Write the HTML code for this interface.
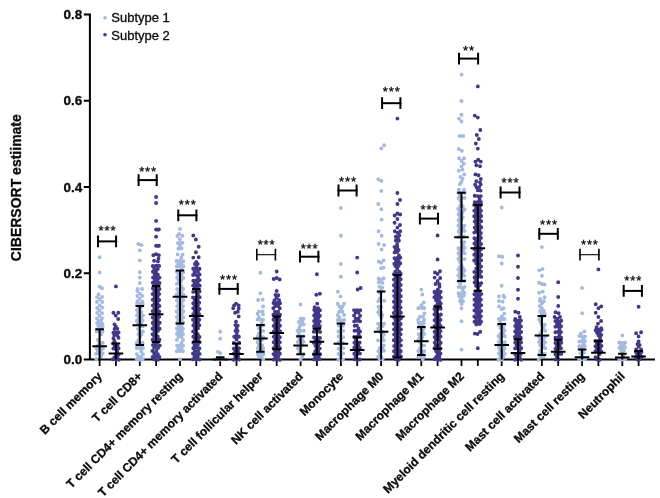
<!DOCTYPE html><html><head><meta charset="utf-8"><title>CIBERSORT estimate</title><style>html,body{margin:0;padding:0;background:#fff}svg{display:block}text{font-family:"Liberation Sans",Arial,sans-serif;fill:#0a0a0a;stroke:#0a0a0a;stroke-width:.3px}</style></head><body>
<svg width="660" height="498" viewBox="0 0 660 498">
<rect width="660" height="498" fill="#fff"/>
<path d="M89.9 13.5V360.5M88.9 359.6H655M83.8 359.6H89.5M83.8 273.3H89.5M83.8 187.0H89.5M83.8 100.8H89.5M83.8 14.5H89.5" stroke="#000" stroke-width="2" fill="none"/>
<path d="M99.6 360V366M115.9 360V366M139.8 360V366M156.1 360V366M180.0 360V366M196.3 360V366M220.2 360V366M236.5 360V366M260.4 360V366M276.7 360V366M300.6 360V366M316.9 360V366M340.9 360V366M357.2 360V366M381.1 360V366M397.4 360V366M421.3 360V366M437.6 360V366M461.5 360V366M477.8 360V366M501.7 360V366M518.0 360V366M541.9 360V366M558.2 360V366M582.1 360V366M598.4 360V366M622.3 360V366M638.6 360V366" stroke="#000" stroke-width="1.8" fill="none"/>
<path d="M99.6 257.3h0M99.6 272.5h0M99.6 286.7h0M102.0 288.2h0M98.6 294.4h0M97.0 297.1h0M102.1 296.9h0M99.6 299.3h0M96.9 302.0h0M102.2 302.0h0M99.7 305.4h0M97.1 308.0h0M102.2 307.5h0M99.4 310.2h0M102.1 313.1h0M97.2 312.7h0M101.9 313.1h0M99.5 315.7h0M96.9 318.4h0M102.0 318.3h0M98.5 321.0h0M101.1 320.5h0M97.1 323.1h0M99.4 323.5h0M102.3 323.7h0M98.3 326.1h0M100.9 326.3h0M99.7 325.6h0M102.7 326.4h0M101.1 328.9h0M96.5 331.3h0M99.4 331.8h0M102.6 331.5h0M101.1 334.4h0M98.0 339.8h0M99.4 342.5h0M102.7 342.8h0M97.8 345.5h0M101.2 345.9h0M96.4 348.4h0M99.4 348.7h0M103.0 348.6h0M97.9 350.8h0M101.0 350.8h0M96.2 353.8h0M99.4 353.6h0M102.7 353.5h0M101.0 356.5h0M96.3 359.2h0M138.3 244.0h0M141.5 244.9h0M139.8 250.4h0M139.8 260.4h0M139.8 272.2h0M139.8 277.6h0M139.8 283.0h0M137.8 289.0h0M142.1 289.0h0M137.3 291.1h0M140.0 293.6h0M137.4 295.8h0M142.1 295.8h0M139.6 298.8h0M137.4 301.3h0M142.3 301.6h0M139.8 303.8h0M137.0 304.0h0M139.9 304.3h0M142.8 304.0h0M138.4 306.7h0M141.3 307.1h0M137.0 309.9h0M139.8 309.9h0M138.1 312.3h0M141.2 312.0h0M137.0 315.4h0M139.9 315.2h0M143.0 315.5h0M138.6 317.8h0M141.5 318.1h0M136.8 320.7h0M139.7 320.5h0M142.5 320.7h0M138.1 323.3h0M141.3 323.1h0M140.0 325.9h0M142.5 326.4h0M138.1 328.9h0M139.6 332.1h0M142.9 331.4h0M138.4 334.5h0M141.5 334.6h0M140.0 337.0h0M138.3 340.1h0M136.7 342.9h0M139.6 342.6h0M142.6 342.7h0M138.5 345.5h0M141.1 345.5h0M136.7 348.0h0M139.8 348.2h0M143.0 348.1h0M141.3 351.4h0M136.9 354.1h0M142.9 354.1h0M138.3 356.6h0M141.1 356.4h0M136.7 359.2h0M140.0 359.8h0M142.7 359.3h0M180.0 228.9h0M179.0 234.0h0M180.0 359.3h0M177.4 236.0h0M182.4 235.8h0M179.8 239.3h0M177.8 243.1h0M182.5 242.8h0M179.1 243.2h0M181.0 243.0h0M180.0 245.6h0M179.0 248.3h0M181.1 248.4h0M178.4 248.7h0M181.5 248.3h0M177.7 254.5h0M182.6 254.6h0M181.3 257.7h0M176.7 261.4h0M180.0 260.8h0M176.6 260.6h0M180.2 261.3h0M183.4 261.3h0M178.3 264.2h0M181.4 263.9h0M176.8 266.5h0M179.8 266.4h0M183.4 266.3h0M181.5 269.7h0M176.8 271.9h0M180.0 272.6h0M183.1 272.6h0M178.4 275.3h0M181.4 274.7h0M177.1 277.7h0M180.2 277.7h0M183.4 278.0h0M178.6 280.5h0M181.3 280.9h0M176.9 283.9h0M179.9 283.5h0M181.5 286.3h0M177.1 288.9h0M180.1 289.4h0M183.2 289.0h0M178.4 292.2h0M181.4 292.1h0M176.7 294.4h0M179.9 295.1h0M183.4 294.6h0M178.2 297.6h0M181.6 297.3h0M176.9 300.5h0M180.2 300.5h0M183.3 300.2h0M178.4 303.4h0M181.5 303.0h0M177.1 306.1h0M180.0 306.4h0M183.0 306.2h0M178.7 308.5h0M181.8 309.1h0M176.6 311.5h0M179.9 312.0h0M183.4 311.5h0M178.4 314.2h0M181.8 314.1h0M176.9 317.0h0M179.8 317.0h0M183.2 317.4h0M178.2 319.9h0M181.4 319.9h0M177.0 322.9h0M179.8 322.8h0M183.2 322.5h0M178.5 325.6h0M181.5 326.1h0M176.9 328.4h0M180.2 328.9h0M183.0 328.7h0M178.2 331.6h0M181.8 331.2h0M176.9 333.9h0M180.0 334.2h0M183.0 334.2h0M178.4 336.7h0M181.6 337.3h0M176.9 340.0h0M183.0 340.1h0M181.4 342.9h0M177.1 345.5h0M179.9 345.6h0M183.1 345.7h0M178.3 348.0h0M181.6 348.1h0M176.7 351.2h0M179.8 351.0h0M182.9 351.3h0M220.2 331.8h0M220.2 338.7h0M217.9 351.8h0M220.2 353.3h0M217.2 359.3h0M220.2 359.5h0M223.2 359.3h0M260.4 272.8h0M260.4 293.3h0M258.1 300.0h0M262.6 299.5h0M263.1 306.4h0M258.9 311.8h0M262.6 311.5h0M257.6 313.8h0M263.0 314.4h0M259.0 317.2h0M257.6 319.4h0M260.2 319.5h0M263.0 319.6h0M261.8 322.6h0M257.5 325.5h0M260.6 325.7h0M263.3 325.6h0M258.9 328.4h0M260.6 331.2h0M263.2 330.9h0M258.8 333.8h0M257.7 336.6h0M260.4 336.8h0M263.3 337.1h0M259.1 339.8h0M261.8 340.0h0M257.6 342.2h0M258.8 345.3h0M262.0 345.3h0M257.8 348.1h0M260.7 347.9h0M263.2 348.3h0M259.3 350.9h0M261.7 350.9h0M257.6 353.7h0M260.4 353.6h0M263.4 354.2h0M258.9 356.9h0M261.7 356.4h0M263.3 359.5h0M300.6 304.5h0M300.6 318.7h0M303.5 318.7h0M298.9 322.0h0M302.4 321.6h0M300.4 325.0h0M303.7 324.5h0M299.3 327.8h0M297.5 330.7h0M300.6 330.9h0M303.8 330.7h0M298.9 333.6h0M297.6 336.5h0M300.8 336.3h0M303.5 336.4h0M299.3 339.0h0M302.1 339.4h0M297.7 342.1h0M300.9 342.4h0M303.5 341.8h0M302.3 344.9h0M297.9 348.2h0M300.6 347.9h0M299.3 350.9h0M300.4 353.5h0M303.6 354.0h0M302.3 356.9h0M300.5 359.8h0M340.9 208.0h0M340.9 235.8h0M340.9 264.0h0M340.9 276.7h0M337.9 291.8h0M340.6 296.4h0M337.7 303.7h0M344.0 303.7h0M339.4 306.5h0M342.5 306.5h0M341.1 309.0h0M339.1 312.0h0M342.4 311.8h0M337.7 315.1h0M344.1 315.0h0M339.3 317.2h0M337.6 319.9h0M340.6 320.3h0M344.2 319.9h0M338.6 320.1h0M342.9 320.2h0M340.7 322.5h0M338.7 325.6h0M342.9 325.7h0M341.0 328.5h0M338.4 331.5h0M343.2 330.9h0M340.8 334.4h0M338.6 336.5h0M343.1 337.2h0M340.7 340.0h0M338.4 342.5h0M342.9 342.6h0M340.9 345.1h0M338.7 348.5h0M343.3 348.1h0M340.6 351.3h0M338.5 353.9h0M343.2 353.5h0M340.7 356.4h0M338.4 359.8h0M343.0 359.7h0M384.1 145.2h0M381.3 148.4h0M378.3 179.2h0M381.4 181.0h0M381.3 191.0h0M378.3 204.0h0M381.3 209.2h0M381.6 219.6h0M378.6 231.3h0M381.6 235.8h0M378.6 244.0h0M384.1 245.0h0M381.6 249.5h0M378.7 261.6h0M383.6 260.4h0M381.1 262.7h0M381.1 268.2h0M383.6 267.6h0M378.7 278.5h0M381.1 279.8h0M383.6 278.5h0M378.7 282.2h0M382.4 283.0h0M379.6 286.7h0M382.4 287.6h0M380.9 290.4h0M379.5 292.7h0M379.7 298.5h0M378.3 301.3h0M384.2 300.7h0M378.4 306.7h0M381.2 307.0h0M379.6 309.4h0M378.1 312.3h0M381.0 312.5h0M379.6 314.8h0M382.4 315.1h0M381.3 317.7h0M378.1 323.7h0M380.8 323.4h0M384.2 323.6h0M379.8 326.2h0M382.6 326.1h0M378.2 328.8h0M379.4 331.6h0M382.6 331.8h0M384.0 334.6h0M382.6 337.5h0M378.0 340.4h0M383.8 340.4h0M383.8 345.4h0M379.6 348.1h0M382.6 348.5h0M378.4 351.3h0M381.0 351.4h0M384.1 350.8h0M379.8 354.0h0M378.1 356.8h0M381.1 356.7h0M379.6 359.2h0M382.7 359.2h0M421.3 289.6h0M422.3 294.5h0M423.7 302.5h0M421.3 305.3h0M418.8 308.1h0M423.9 307.7h0M418.3 308.1h0M421.1 307.7h0M424.2 308.4h0M424.4 313.5h0M419.9 316.7h0M423.0 316.8h0M418.2 319.6h0M424.1 319.9h0M419.6 322.8h0M422.8 322.6h0M418.5 322.6h0M421.1 323.0h0M423.9 323.0h0M419.7 325.6h0M422.7 325.6h0M418.5 328.1h0M421.3 328.0h0M423.9 328.3h0M422.8 331.4h0M418.7 334.2h0M421.4 333.9h0M424.3 334.1h0M419.7 337.1h0M422.5 336.8h0M418.5 339.5h0M421.4 339.6h0M420.1 342.6h0M421.4 345.2h0M424.2 345.6h0M419.8 348.4h0M418.3 351.1h0M421.3 351.3h0M424.3 351.1h0M419.7 353.8h0M422.7 353.5h0M418.3 356.9h0M421.3 356.5h0M424.0 356.4h0M422.8 359.7h0M461.5 74.6h0M461.5 101.0h0M461.5 114.7h0M459.0 118.6h0M461.5 121.5h0M459.8 136.0h0M463.2 136.0h0M458.7 149.0h0M461.9 150.7h0M458.8 170.7h0M462.5 169.8h0M464.2 174.4h0M460.5 177.0h0M461.5 308.2h0M461.5 321.3h0M461.5 349.6h0M459.1 158.2h0M464.0 158.2h0M461.6 161.0h0M463.8 163.7h0M461.5 166.4h0M462.6 178.7h0M461.4 182.0h0M459.8 184.3h0M458.8 189.6h0M464.0 189.6h0M460.1 192.6h0M463.2 192.3h0M458.4 192.8h0M464.6 192.8h0M459.9 195.3h0M458.6 198.1h0M461.5 198.3h0M464.6 197.9h0M460.2 200.5h0M461.3 203.3h0M460.2 206.0h0M462.8 206.1h0M458.3 209.0h0M464.6 209.5h0M459.9 212.1h0M462.7 211.9h0M458.5 214.3h0M461.7 214.5h0M460.0 217.1h0M462.8 217.5h0M458.6 220.2h0M461.4 220.2h0M459.9 223.3h0M458.4 225.4h0M461.3 225.3h0M464.4 225.7h0M459.7 228.6h0M463.0 228.5h0M458.7 231.5h0M461.4 231.1h0M464.7 231.1h0M459.9 233.7h0M458.5 237.1h0M461.5 236.7h0M464.3 236.4h0M461.6 242.1h0M464.5 242.1h0M463.1 245.3h0M458.5 248.2h0M461.6 248.0h0M464.6 247.7h0M460.0 250.7h0M463.1 250.6h0M458.5 253.2h0M464.6 253.4h0M459.8 255.8h0M458.5 258.9h0M464.4 259.1h0M460.0 261.9h0M461.4 264.7h0M459.8 267.0h0M462.9 267.4h0M458.4 269.6h0M461.7 270.1h0M464.5 270.2h0M459.8 272.8h0M463.0 272.5h0M458.4 275.4h0M461.3 275.5h0M464.4 275.6h0M459.9 278.0h0M458.5 281.3h0M461.5 281.2h0M464.5 280.6h0M458.5 281.2h0M461.4 281.1h0M464.4 280.9h0M460.2 283.8h0M458.5 287.1h0M461.3 287.2h0M464.5 287.0h0M462.7 290.1h0M458.5 293.3h0M461.5 293.3h0M464.4 293.0h0M460.1 296.2h0M462.7 296.1h0M459.2 296.2h0M463.8 295.7h0M461.3 298.3h0M460.1 301.0h0M463.0 301.3h0M461.6 303.9h0M501.7 207.5h0M498.9 256.2h0M502.3 256.7h0M501.7 263.5h0M501.7 285.8h0M499.0 296.4h0M503.5 295.8h0M504.4 297.3h0M499.0 301.0h0M502.6 301.8h0M499.0 306.4h0M503.5 308.2h0M501.7 309.1h0M504.2 313.6h0M501.9 316.5h0M499.0 318.9h0M504.4 319.3h0M498.8 319.1h0M501.6 319.2h0M504.5 319.2h0M500.2 321.8h0M498.9 324.9h0M501.9 325.0h0M504.6 324.5h0M500.4 327.9h0M503.0 327.7h0M501.8 330.3h0M504.5 330.4h0M500.4 333.8h0M503.1 333.8h0M498.6 336.3h0M501.6 336.3h0M504.9 336.2h0M500.4 339.2h0M498.8 342.0h0M501.8 342.1h0M504.8 342.3h0M500.1 345.4h0M503.1 345.1h0M498.8 347.6h0M504.6 348.3h0M500.1 350.5h0M503.3 351.0h0M498.8 353.4h0M501.8 354.1h0M504.8 353.9h0M500.4 356.8h0M503.2 356.9h0M498.5 359.8h0M501.7 359.6h0M541.9 247.1h0M539.1 270.4h0M542.5 269.0h0M541.9 275.8h0M539.1 282.7h0M541.9 284.0h0M544.6 284.5h0M539.2 292.7h0M542.8 291.8h0M544.6 297.3h0M540.1 299.0h0M539.9 300.7h0M543.8 301.3h0M542.0 303.3h0M539.6 306.1h0M541.7 308.3h0M540.0 311.3h0M543.8 310.8h0M542.0 313.6h0M544.8 313.9h0M540.2 316.5h0M543.2 316.3h0M539.2 319.5h0M540.5 322.1h0M541.7 324.8h0M544.8 324.7h0M543.4 327.6h0M541.7 330.7h0M545.1 330.8h0M540.3 333.5h0M538.7 336.6h0M541.8 336.5h0M545.0 336.7h0M540.2 339.6h0M543.4 339.3h0M539.0 342.1h0M542.0 342.3h0M545.1 342.4h0M540.3 345.5h0M543.4 345.4h0M542.0 347.7h0M545.2 348.3h0M540.2 350.7h0M539.0 354.1h0M542.1 353.6h0M544.7 354.0h0M540.6 356.8h0M543.6 356.4h0M538.7 359.7h0M582.1 287.9h0M582.1 313.2h0M580.9 333.6h0M584.4 331.5h0M579.1 359.3h0M582.1 359.5h0M585.1 359.3h0M579.4 336.1h0M582.0 336.7h0M585.0 336.6h0M583.6 339.0h0M579.3 341.6h0M582.0 341.0h0M584.9 341.2h0M583.6 344.0h0M579.3 346.2h0M581.9 346.0h0M584.9 346.1h0M580.7 346.6h0M584.0 346.1h0M582.0 349.5h0M580.4 353.0h0M584.0 352.7h0M581.9 356.3h0M622.3 335.5h0M619.3 359.3h0M622.3 359.5h0M625.3 359.3h0M619.3 342.5h0M622.3 342.9h0M625.1 342.6h0M621.0 345.0h0M624.0 345.1h0M619.3 347.7h0M622.1 347.5h0M625.1 347.4h0M621.0 350.1h0M623.9 350.4h0M621.1 349.9h0M622.2 353.1h0M623.6 355.6h0" stroke="#a3bae1" stroke-width="3.9" stroke-linecap="round" fill="none"/>
<path d="M115.9 286.4h0M113.4 312.7h0M118.3 312.8h0M115.7 315.6h0M118.2 319.0h0M114.5 324.4h0M115.8 326.4h0M114.6 329.0h0M117.3 328.8h0M113.4 332.8h0M116.1 332.7h0M118.6 332.4h0M114.3 335.0h0M117.4 335.6h0M113.4 338.3h0M118.5 337.7h0M114.4 340.7h0M113.1 343.4h0M115.7 343.4h0M114.6 346.0h0M117.5 345.9h0M113.3 348.6h0M116.1 348.9h0M118.6 348.4h0M117.2 351.7h0M115.8 354.1h0M118.6 354.5h0M114.5 357.1h0M117.5 357.1h0M112.8 359.3h0M115.9 359.3h0M118.7 359.8h0M156.1 197.0h0M156.1 203.0h0M156.1 220.9h0M156.1 229.5h0M158.9 229.5h0M156.1 236.7h0M156.1 245.8h0M158.9 245.8h0M153.3 255.3h0M156.1 254.3h0M158.9 255.3h0M158.5 258.6h0M154.1 260.7h0M157.9 261.4h0M153.5 266.4h0M158.5 265.6h0M152.8 266.0h0M156.1 265.6h0M159.2 265.9h0M154.2 268.7h0M157.8 268.9h0M152.9 271.8h0M156.1 271.5h0M154.6 274.6h0M157.9 274.8h0M153.0 277.6h0M156.1 277.3h0M159.5 277.6h0M154.7 280.3h0M157.6 279.8h0M152.8 282.7h0M156.1 283.1h0M159.5 283.0h0M154.6 286.0h0M157.8 286.0h0M152.9 288.5h0M156.0 288.9h0M159.5 289.0h0M154.4 291.5h0M157.9 291.6h0M152.6 294.1h0M156.2 294.2h0M159.2 294.0h0M154.5 297.3h0M157.7 297.2h0M152.8 299.7h0M156.0 300.4h0M159.2 300.0h0M154.7 302.8h0M157.6 303.2h0M152.8 305.4h0M156.3 305.4h0M159.4 306.0h0M154.3 308.8h0M157.5 308.1h0M152.7 311.2h0M156.0 311.2h0M159.2 311.5h0M154.2 314.5h0M158.0 314.0h0M152.7 317.4h0M156.0 316.9h0M159.2 316.7h0M154.3 320.2h0M157.7 319.8h0M152.7 323.0h0M156.3 322.8h0M159.7 322.7h0M154.2 325.7h0M157.9 325.6h0M152.5 328.7h0M156.1 328.2h0M159.6 328.7h0M154.5 331.0h0M157.8 330.9h0M152.6 334.3h0M156.0 334.3h0M154.2 336.6h0M157.7 336.5h0M152.6 339.7h0M156.2 339.6h0M159.5 339.6h0M154.2 342.3h0M157.6 342.5h0M152.9 345.1h0M156.0 345.3h0M159.8 345.6h0M154.2 347.8h0M158.0 348.1h0M152.4 350.9h0M156.3 351.3h0M154.2 353.6h0M157.9 354.2h0M152.7 356.9h0M156.1 356.3h0M159.4 357.0h0M154.3 359.2h0M157.9 359.7h0M193.3 235.5h0M195.9 239.5h0M198.7 246.7h0M195.9 252.2h0M193.3 257.6h0M198.7 257.3h0M196.3 262.0h0M194.9 264.0h0M197.7 263.9h0M196.3 266.6h0M193.3 268.6h0M196.3 268.8h0M199.4 269.0h0M193.2 268.7h0M196.3 268.7h0M199.5 268.6h0M194.5 272.0h0M197.9 271.5h0M193.1 275.0h0M196.5 275.1h0M199.6 274.4h0M198.1 277.8h0M193.3 280.7h0M196.2 280.5h0M199.7 280.1h0M194.6 283.1h0M197.7 283.0h0M193.1 285.6h0M196.2 286.3h0M199.7 285.7h0M194.6 288.8h0M197.8 289.1h0M193.2 291.9h0M196.6 291.7h0M199.6 291.4h0M197.8 294.7h0M193.0 297.5h0M196.5 297.1h0M199.7 297.3h0M194.7 299.7h0M197.7 300.2h0M193.2 303.3h0M196.2 303.1h0M199.2 302.8h0M194.7 305.5h0M197.9 305.5h0M193.2 308.3h0M196.2 308.3h0M199.5 308.9h0M194.7 311.2h0M198.0 311.5h0M193.2 314.2h0M196.4 314.0h0M199.2 314.3h0M194.6 316.7h0M197.7 317.1h0M193.0 319.7h0M196.3 320.0h0M199.3 319.8h0M194.5 323.0h0M198.0 322.3h0M193.3 325.5h0M196.3 325.3h0M199.3 325.2h0M194.9 328.5h0M198.0 328.2h0M193.1 331.4h0M196.2 331.3h0M194.9 333.7h0M197.8 334.2h0M193.3 336.7h0M196.2 336.7h0M199.5 337.0h0M195.0 339.7h0M198.0 340.0h0M193.3 342.6h0M196.2 342.6h0M199.7 342.2h0M194.5 345.7h0M197.7 345.0h0M193.3 348.3h0M196.4 347.8h0M199.4 348.4h0M194.9 350.7h0M198.1 351.4h0M193.0 353.5h0M196.5 354.1h0M199.6 353.9h0M194.5 356.4h0M197.7 356.5h0M192.9 359.3h0M196.4 359.4h0M199.7 359.5h0M234.1 305.5h0M238.7 305.5h0M236.0 303.6h0M233.2 308.2h0M238.7 308.4h0M235.1 312.7h0M237.8 311.8h0M238.7 316.4h0M236.0 321.8h0M235.4 325.1h0M237.7 325.7h0M236.6 328.4h0M235.5 330.9h0M237.6 330.9h0M236.7 334.5h0M235.3 337.0h0M237.6 337.0h0M234.2 336.8h0M238.9 336.8h0M236.5 339.5h0M233.8 342.9h0M239.2 342.7h0M236.5 345.4h0M233.7 348.6h0M236.4 348.1h0M239.1 348.2h0M235.1 351.0h0M238.0 351.3h0M233.8 353.7h0M236.7 354.0h0M239.0 353.8h0M235.2 356.4h0M238.1 356.5h0M233.7 359.7h0M236.4 359.2h0M239.2 359.5h0M276.7 271.5h0M273.7 279.0h0M276.7 278.0h0M279.7 279.5h0M276.7 291.0h0M275.5 294.9h0M278.3 295.3h0M276.6 297.7h0M274.5 300.2h0M279.1 300.2h0M275.2 302.7h0M278.3 302.8h0M273.5 303.0h0M276.8 303.1h0M280.1 303.3h0M275.3 306.1h0M278.1 306.1h0M273.3 308.3h0M279.8 308.3h0M275.0 311.7h0M278.1 311.8h0M273.4 314.6h0M276.9 314.4h0M280.0 314.6h0M275.3 317.1h0M278.3 317.4h0M273.5 319.7h0M276.7 319.6h0M279.7 319.9h0M275.2 323.1h0M278.5 322.7h0M273.7 325.9h0M276.7 326.0h0M280.0 325.7h0M275.2 328.6h0M278.2 328.8h0M273.6 331.6h0M276.8 331.4h0M280.1 331.1h0M275.2 334.3h0M278.3 334.0h0M273.8 336.7h0M276.7 336.9h0M279.9 337.3h0M275.3 339.6h0M278.2 339.8h0M273.7 342.2h0M276.9 342.6h0M279.8 342.2h0M275.4 345.5h0M278.5 345.7h0M273.6 348.3h0M276.8 348.3h0M280.0 348.2h0M275.0 350.8h0M278.5 351.4h0M273.5 354.1h0M276.8 353.7h0M279.9 353.7h0M275.2 357.0h0M278.3 356.3h0M273.7 359.6h0M276.7 359.1h0M279.9 359.9h0M316.9 274.2h0M316.3 294.8h0M319.9 293.8h0M317.2 303.6h0M314.6 307.3h0M318.1 308.2h0M314.2 309.9h0M317.0 310.2h0M320.0 310.3h0M315.5 312.9h0M318.3 312.6h0M314.1 315.5h0M317.1 315.7h0M319.9 315.8h0M315.5 318.2h0M318.3 318.0h0M314.1 320.9h0M316.9 321.0h0M319.7 321.4h0M315.3 323.9h0M318.3 323.8h0M314.0 326.1h0M317.2 326.8h0M319.9 326.3h0M315.4 329.6h0M318.6 329.6h0M313.8 331.8h0M316.7 331.6h0M320.1 332.0h0M314.0 337.4h0M317.2 337.3h0M320.0 337.9h0M315.4 340.2h0M318.7 340.6h0M313.8 342.8h0M317.2 343.3h0M319.7 343.2h0M315.5 346.1h0M318.2 346.0h0M316.8 348.6h0M319.7 348.4h0M315.3 351.2h0M318.3 351.0h0M313.8 354.2h0M316.7 354.3h0M320.1 354.3h0M315.3 356.7h0M318.6 357.0h0M314.0 359.4h0M316.9 359.6h0M319.8 359.1h0M357.2 257.6h0M357.2 272.5h0M357.7 289.5h0M360.7 288.0h0M354.0 310.1h0M357.2 310.2h0M360.3 310.2h0M355.5 312.7h0M358.5 312.4h0M354.0 315.6h0M360.1 315.7h0M355.8 318.6h0M358.6 318.5h0M354.2 321.4h0M357.1 320.8h0M360.1 321.4h0M354.7 325.8h0M356.9 325.5h0M358.5 328.4h0M354.5 330.8h0M357.2 330.8h0M360.1 331.4h0M358.7 334.3h0M354.2 336.9h0M357.2 336.7h0M360.1 336.9h0M355.8 339.6h0M354.4 342.6h0M357.2 342.9h0M359.7 342.5h0M355.6 345.0h0M358.4 345.3h0M354.3 347.8h0M357.3 348.3h0M359.9 347.9h0M355.8 351.0h0M358.5 350.8h0M354.3 353.8h0M357.2 353.4h0M360.0 353.6h0M355.8 356.5h0M354.6 359.2h0M357.3 359.5h0M359.8 359.5h0M397.4 118.6h0M397.4 193.0h0M400.0 200.0h0M397.4 204.0h0M394.6 215.5h0M397.4 213.5h0M400.2 214.5h0M397.4 219.0h0M394.6 222.7h0M400.0 225.0h0M397.4 227.6h0M400.2 231.3h0M394.8 231.3h0M397.6 233.0h0M399.4 235.3h0M395.8 236.8h0M398.0 238.0h0M395.8 240.5h0M398.9 240.7h0M397.1 244.2h0M394.5 246.9h0M397.3 246.7h0M395.8 249.7h0M398.6 250.0h0M394.6 252.4h0M397.2 252.1h0M399.0 255.4h0M394.5 258.2h0M397.6 257.7h0M400.4 257.6h0M396.1 260.6h0M398.7 260.3h0M394.3 263.7h0M397.4 263.0h0M400.3 263.2h0M395.7 266.3h0M398.7 265.8h0M395.3 265.6h0M397.2 268.8h0M395.3 271.6h0M399.3 271.6h0M393.9 274.2h0M397.6 273.8h0M400.7 273.8h0M395.5 276.9h0M399.2 276.8h0M393.9 279.6h0M397.6 279.2h0M400.7 279.3h0M395.6 282.4h0M399.0 282.2h0M393.9 285.3h0M397.5 284.7h0M400.7 285.0h0M395.5 287.6h0M398.9 288.0h0M394.0 290.9h0M397.6 290.8h0M400.6 290.2h0M395.8 293.2h0M399.1 293.5h0M394.2 295.9h0M397.2 295.8h0M400.8 296.2h0M395.5 298.6h0M398.9 298.7h0M393.9 301.7h0M397.5 301.6h0M400.6 301.5h0M395.6 303.9h0M399.2 304.2h0M394.2 307.2h0M397.2 306.8h0M400.6 307.4h0M395.5 310.0h0M399.2 310.1h0M393.8 313.0h0M397.6 312.8h0M400.9 312.7h0M395.5 315.5h0M399.1 315.7h0M394.2 317.8h0M397.5 317.9h0M401.0 318.2h0M395.6 320.5h0M399.0 320.6h0M393.8 323.8h0M397.2 323.4h0M400.7 324.0h0M395.6 326.7h0M399.1 326.3h0M394.0 329.4h0M397.5 329.2h0M400.9 329.4h0M395.6 331.8h0M398.8 331.7h0M394.1 334.6h0M397.3 334.7h0M400.6 334.3h0M395.9 337.6h0M399.2 337.8h0M393.8 340.2h0M397.2 340.2h0M400.9 340.3h0M395.9 343.1h0M398.9 342.7h0M394.2 346.0h0M397.2 345.8h0M400.9 345.4h0M395.9 348.7h0M398.9 348.7h0M394.0 351.3h0M397.5 351.0h0M400.8 351.3h0M395.8 354.3h0M399.0 354.0h0M393.9 356.8h0M397.5 356.5h0M401.0 356.4h0M395.7 359.3h0M398.8 359.8h0M437.6 235.5h0M437.6 259.5h0M435.0 272.5h0M440.0 271.3h0M437.6 274.0h0M434.6 277.6h0M440.2 278.0h0M437.6 281.0h0M435.6 284.0h0M439.4 284.2h0M439.5 286.7h0M437.8 289.7h0M434.5 292.3h0M437.5 292.0h0M440.7 291.9h0M434.5 291.7h0M437.4 292.3h0M440.5 291.7h0M436.0 294.9h0M439.1 294.4h0M434.4 297.2h0M437.8 297.3h0M440.8 297.4h0M436.0 300.2h0M439.1 300.8h0M437.6 303.5h0M440.8 303.4h0M436.0 305.9h0M439.3 306.4h0M434.4 309.1h0M437.6 309.0h0M440.7 308.8h0M435.9 311.5h0M434.4 314.3h0M437.5 314.2h0M440.9 314.5h0M436.1 317.2h0M438.9 317.2h0M434.6 320.2h0M437.5 320.5h0M440.5 319.9h0M436.3 322.8h0M439.1 323.2h0M434.5 326.1h0M437.5 325.4h0M440.6 325.9h0M436.0 328.3h0M439.3 328.7h0M434.6 331.7h0M437.4 331.6h0M440.6 331.1h0M436.0 334.5h0M439.3 334.0h0M434.6 337.1h0M437.7 336.9h0M440.6 336.6h0M435.9 339.8h0M439.0 339.8h0M434.7 342.7h0M440.7 342.8h0M435.8 345.2h0M439.3 345.1h0M434.4 348.3h0M437.6 348.4h0M440.6 348.4h0M436.1 351.3h0M439.0 351.3h0M437.5 353.9h0M440.5 353.5h0M436.1 356.9h0M439.4 356.5h0M434.3 359.1h0M437.4 359.5h0M440.5 359.9h0M477.8 86.4h0M474.8 115.6h0M477.8 117.6h0M480.3 130.0h0M476.8 135.0h0M478.8 139.0h0M475.8 143.5h0M477.8 148.6h0M475.4 161.6h0M478.2 159.8h0M480.8 161.6h0M476.3 165.3h0M480.0 166.2h0M475.4 174.4h0M478.5 175.3h0M480.8 179.0h0M476.3 181.3h0M480.0 182.5h0M474.8 333.6h0M480.2 331.8h0M477.5 334.0h0M477.8 348.2h0M475.1 184.7h0M480.7 184.4h0M476.6 187.2h0M479.2 187.1h0M477.8 190.2h0M480.6 190.6h0M474.7 195.8h0M477.7 196.1h0M480.8 196.1h0M479.5 199.2h0M474.7 202.1h0M477.8 201.9h0M480.9 201.9h0M476.5 205.1h0M479.5 205.0h0M474.2 204.9h0M477.6 205.3h0M481.2 204.7h0M476.1 208.0h0M479.6 207.9h0M474.3 210.8h0M478.0 210.3h0M480.9 210.8h0M476.1 213.5h0M479.7 213.5h0M474.2 216.3h0M478.0 216.0h0M481.2 216.0h0M475.9 219.2h0M479.6 218.6h0M474.7 221.6h0M477.7 221.8h0M481.2 221.3h0M476.2 224.4h0M479.3 224.7h0M474.7 227.6h0M477.8 227.1h0M481.3 227.2h0M475.9 230.0h0M479.5 230.0h0M474.3 232.6h0M478.0 232.6h0M480.9 232.9h0M479.7 235.7h0M474.4 238.3h0M477.9 238.1h0M481.0 238.0h0M475.9 241.2h0M479.5 241.1h0M474.4 243.6h0M477.6 244.0h0M481.1 244.0h0M475.9 247.0h0M479.6 247.0h0M474.3 249.1h0M477.6 249.5h0M480.9 249.4h0M476.1 252.2h0M479.3 252.2h0M474.3 254.8h0M477.8 255.3h0M481.4 255.0h0M476.2 258.0h0M479.6 257.5h0M474.2 260.5h0M477.7 260.9h0M481.2 260.4h0M476.3 263.5h0M479.3 263.4h0M477.8 266.3h0M481.1 266.4h0M476.3 268.5h0M479.4 268.8h0M474.3 271.9h0M477.6 271.6h0M481.0 271.5h0M476.4 274.9h0M479.5 274.5h0M474.6 277.5h0M477.6 277.4h0M481.3 276.9h0M476.0 279.8h0M474.6 282.5h0M478.0 283.1h0M481.3 283.1h0M476.1 285.9h0M479.7 285.4h0M478.0 288.1h0M476.0 291.4h0M479.3 291.1h0M474.4 294.3h0M477.9 293.8h0M481.3 294.1h0M476.3 296.6h0M479.5 297.0h0M474.5 299.8h0M477.5 299.5h0M480.9 299.7h0M476.2 302.2h0M479.3 302.2h0M474.5 304.9h0M477.7 305.2h0M481.2 305.3h0M476.2 307.5h0M479.3 307.6h0M474.4 310.4h0M477.8 310.9h0M481.1 311.0h0M476.4 313.1h0M479.3 313.4h0M474.3 316.5h0M477.9 316.0h0M480.9 316.2h0M476.1 318.8h0M479.7 319.1h0M474.5 321.7h0M477.7 321.8h0M481.1 321.7h0M476.3 324.5h0M479.7 324.1h0M518.0 255.5h0M518.0 266.7h0M518.0 278.0h0M518.0 289.8h0M518.0 298.7h0M515.3 311.8h0M518.5 312.7h0M519.8 317.0h0M515.3 319.0h0M515.0 320.2h0M518.0 320.8h0M521.0 320.4h0M516.4 323.6h0M519.6 323.0h0M515.2 326.1h0M518.2 326.3h0M521.0 326.4h0M516.6 329.0h0M519.4 328.5h0M515.2 331.5h0M517.9 331.3h0M521.2 331.9h0M516.6 334.1h0M519.4 334.0h0M514.9 337.0h0M518.0 337.3h0M520.7 337.5h0M516.4 340.1h0M519.4 340.1h0M515.2 342.6h0M518.2 342.8h0M521.1 342.4h0M516.5 345.2h0M519.6 345.6h0M515.1 348.4h0M518.2 348.8h0M521.2 348.2h0M519.5 350.8h0M515.1 354.1h0M517.9 353.7h0M520.8 353.7h0M516.5 356.7h0M519.6 356.5h0M515.1 359.7h0M521.2 359.8h0M558.2 282.2h0M558.2 297.0h0M558.2 306.0h0M555.5 312.2h0M558.7 313.3h0M554.6 317.0h0M560.0 317.0h0M557.3 319.0h0M555.4 321.0h0M558.2 321.1h0M561.3 320.7h0M556.8 323.6h0M559.4 323.9h0M555.4 326.7h0M558.0 326.6h0M561.1 326.2h0M559.6 328.9h0M555.4 332.3h0M558.1 331.8h0M561.0 332.1h0M559.4 334.4h0M555.4 337.6h0M558.2 337.4h0M561.2 337.8h0M556.9 340.6h0M559.8 339.9h0M555.4 342.9h0M558.0 343.4h0M561.3 342.8h0M556.7 345.6h0M559.7 346.1h0M555.5 348.7h0M558.5 348.7h0M561.0 348.4h0M556.6 351.6h0M555.4 354.2h0M558.4 354.0h0M561.3 353.9h0M556.7 356.8h0M555.3 359.6h0M558.4 359.4h0M598.4 269.4h0M595.7 304.2h0M601.2 306.4h0M598.4 308.2h0M595.7 312.7h0M598.4 317.0h0M601.1 321.0h0M598.0 323.6h0M596.6 327.3h0M601.1 328.2h0M595.6 330.2h0M598.3 329.6h0M601.6 329.7h0M597.0 332.8h0M599.7 332.4h0M598.5 335.4h0M601.2 335.0h0M600.1 337.9h0M595.3 341.0h0M598.4 340.7h0M601.2 341.0h0M596.9 343.6h0M599.7 343.2h0M595.4 346.2h0M598.6 345.7h0M601.5 345.9h0M596.9 348.5h0M600.0 348.4h0M595.5 351.2h0M598.4 351.1h0M601.3 351.4h0M599.7 353.9h0M595.5 357.1h0M597.2 359.5h0M599.7 359.8h0M638.6 306.7h0M636.1 333.3h0M641.1 332.2h0M638.6 336.4h0M638.6 341.5h0M637.5 344.3h0M639.6 344.9h0M638.7 346.6h0M636.2 349.5h0M641.1 349.5h0M640.0 352.3h0M635.9 352.0h0M638.9 351.9h0M641.5 352.1h0M637.1 354.2h0M639.9 354.6h0M635.7 357.0h0M638.4 356.8h0M641.8 356.7h0M637.2 359.6h0M639.9 359.3h0" stroke="#41388b" stroke-width="3.9" stroke-linecap="round" fill="none"/>
<path d="M99.6 329.2V359.5M95.3 329.2h8.6M92.3 346.3h14.6M115.9 343.4V359.5M111.6 343.4h8.6M108.6 353.4h14.6M139.8 306.0V344.9M135.5 306.0h8.6M135.5 344.9h8.6M132.5 325.3h14.6M156.1 286.0V342.0M151.8 286.0h8.6M151.8 342.0h8.6M148.8 314.2h14.6M180.0 270.4V323.6M175.7 270.4h8.6M175.7 323.6h8.6M172.7 296.7h14.6M196.3 289.1V341.7M192.0 289.1h8.6M192.0 341.7h8.6M189.0 315.9h14.6M220.2 357.3V359.5M215.9 357.3h8.6M212.9 359.5h14.6M236.5 343.5V359.5M232.2 343.5h8.6M229.2 354.0h14.6M260.4 324.9V351.8M256.1 324.9h8.6M256.1 351.8h8.6M253.1 338.4h14.6M276.7 316.6V349.2M272.4 316.6h8.6M272.4 349.2h8.6M269.4 333.0h14.6M300.6 336.2V354.3M296.3 336.2h8.6M296.3 354.3h8.6M293.3 345.5h14.6M316.9 328.4V354.3M312.6 328.4h8.6M312.6 354.3h8.6M309.6 341.7h14.6M340.9 323.6V359.5M336.6 323.6h8.6M333.6 343.7h14.6M357.2 337.2V359.5M352.9 337.2h8.6M349.9 350.0h14.6M381.1 291.5V359.5M376.8 291.5h8.6M373.8 331.7h14.6M397.4 275.0V357.5M393.1 275.0h8.6M393.1 357.5h8.6M390.1 316.6h14.6M421.3 327.0V355.0M417.0 327.0h8.6M417.0 355.0h8.6M414.0 341.2h14.6M437.6 306.5V348.7M433.3 306.5h8.6M433.3 348.7h8.6M430.3 327.4h14.6M461.5 192.8V281.0M457.2 192.8h8.6M457.2 281.0h8.6M454.2 237.3h14.6M477.8 205.0V290.7M473.5 205.0h8.6M473.5 290.7h8.6M470.5 248.2h14.6M501.7 324.0V359.5M497.4 324.0h8.6M494.4 345.0h14.6M518.0 339.2V359.5M513.7 339.2h8.6M510.7 353.0h14.6M541.9 316.0V355.0M537.6 316.0h8.6M537.6 355.0h8.6M534.6 335.4h14.6M558.2 339.7V359.5M553.9 339.7h8.6M550.9 351.8h14.6M582.1 349.6V359.5M577.8 349.6h8.6M574.8 357.3h14.6M598.4 341.0V359.5M594.1 341.0h8.6M591.1 352.7h14.6M622.3 353.8V359.5M618.0 353.8h8.6M615.0 357.6h14.6M638.6 351.1V359.5M634.3 351.1h8.6M631.3 356.6h14.6" stroke="#000" stroke-width="2" fill="none"/>
<text x="82.3" y="364.2" font-size="13.5" font-weight="bold" text-anchor="end">0.0</text>
<text x="82.3" y="277.9" font-size="13.5" font-weight="bold" text-anchor="end">0.2</text>
<text x="82.3" y="191.6" font-size="13.5" font-weight="bold" text-anchor="end">0.4</text>
<text x="82.3" y="105.4" font-size="13.5" font-weight="bold" text-anchor="end">0.6</text>
<text x="82.3" y="19.1" font-size="13.5" font-weight="bold" text-anchor="end">0.8</text>
<path d="M97.0 241.4H117.1" stroke="#000" stroke-width="2" fill="none"/><path d="M98.0 235.5v11.8M116.1 235.5v11.8" stroke="#000" stroke-width="2" fill="none"/>
<text x="107.5" y="234.8" font-size="13" letter-spacing=".9" text-anchor="middle">***</text>
<path d="M137.6 180.1H157.7" stroke="#000" stroke-width="2" fill="none"/><path d="M138.6 174.2v11.8M156.7 174.2v11.8" stroke="#000" stroke-width="2" fill="none"/>
<text x="148.1" y="175.7" font-size="13" letter-spacing=".9" text-anchor="middle">***</text>
<path d="M177.3 215.3H197.4" stroke="#000" stroke-width="2" fill="none"/><path d="M178.3 209.4v11.8M196.4 209.4v11.8" stroke="#000" stroke-width="2" fill="none"/>
<text x="187.8" y="209.2" font-size="13" letter-spacing=".9" text-anchor="middle">***</text>
<path d="M218.4 288.9H238.7" stroke="#000" stroke-width="2" fill="none"/><path d="M219.4 283.0v11.8M237.7 283.0v11.8" stroke="#000" stroke-width="2" fill="none"/>
<text x="229.0" y="283.6" font-size="13" letter-spacing=".9" text-anchor="middle">***</text>
<path d="M256.0 254.7H276.2" stroke="#000" stroke-width="1.1" fill="none"/><path d="M256.8 248.8v11.8M275.4 248.8v11.8" stroke="#000" stroke-width="1.6" fill="none"/>
<text x="266.6" y="248.7" font-size="13" letter-spacing=".9" text-anchor="middle">***</text>
<path d="M299.0 256.7H319.4" stroke="#000" stroke-width="2" fill="none"/><path d="M300.0 250.8v11.8M318.4 250.8v11.8" stroke="#000" stroke-width="2" fill="none"/>
<text x="309.6" y="253.1" font-size="13" letter-spacing=".9" text-anchor="middle">***</text>
<path d="M337.5 190.5H357.6" stroke="#000" stroke-width="2" fill="none"/><path d="M338.5 184.6v11.8M356.6 184.6v11.8" stroke="#000" stroke-width="2" fill="none"/>
<text x="348.0" y="185.5" font-size="13" letter-spacing=".9" text-anchor="middle">***</text>
<path d="M381.1 103.2H401.4" stroke="#000" stroke-width="2" fill="none"/><path d="M382.1 97.3v11.8M400.4 97.3v11.8" stroke="#000" stroke-width="2" fill="none"/>
<text x="391.7" y="96.1" font-size="13" letter-spacing=".9" text-anchor="middle">***</text>
<path d="M418.9 218.6H439.0" stroke="#000" stroke-width="2" fill="none"/><path d="M419.9 212.7v11.8M438.0 212.7v11.8" stroke="#000" stroke-width="2" fill="none"/>
<text x="429.4" y="213.5" font-size="13" letter-spacing=".9" text-anchor="middle">***</text>
<path d="M458.0 58.6H479.1" stroke="#000" stroke-width="2" fill="none"/><path d="M459.0 52.7v11.8M478.1 52.7v11.8" stroke="#000" stroke-width="2" fill="none"/>
<text x="469.0" y="55.1" font-size="13" letter-spacing=".9" text-anchor="middle">**</text>
<path d="M499.6 192.5H520.5" stroke="#000" stroke-width="2" fill="none"/><path d="M500.6 186.6v11.8M519.5 186.6v11.8" stroke="#000" stroke-width="2" fill="none"/>
<text x="510.5" y="186.5" font-size="13" letter-spacing=".9" text-anchor="middle">***</text>
<path d="M538.3 233.8H558.8" stroke="#000" stroke-width="2" fill="none"/><path d="M539.3 227.9v11.8M557.8 227.9v11.8" stroke="#000" stroke-width="2" fill="none"/>
<text x="549.0" y="229.1" font-size="13" letter-spacing=".9" text-anchor="middle">***</text>
<path d="M579.2 254.7H599.7" stroke="#000" stroke-width="1.1" fill="none"/><path d="M580.0 248.8v11.8M598.9 248.8v11.8" stroke="#000" stroke-width="1.6" fill="none"/>
<text x="589.9" y="249.1" font-size="13" letter-spacing=".9" text-anchor="middle">***</text>
<path d="M622.7 290.9H642.9" stroke="#000" stroke-width="2" fill="none"/><path d="M623.7 285.0v11.8M641.9 285.0v11.8" stroke="#000" stroke-width="2" fill="none"/>
<text x="633.2" y="284.9" font-size="13" letter-spacing=".9" text-anchor="middle">***</text>
<text transform="translate(102.8 377.0) rotate(-45)" font-size="12" font-weight="bold" text-anchor="end">B cell memory</text>
<text transform="translate(143.0 377.0) rotate(-45)" font-size="12" font-weight="bold" text-anchor="end">T cell CD8+</text>
<text transform="translate(183.2 377.0) rotate(-45)" font-size="12" font-weight="bold" text-anchor="end">T cell CD4+ memory resting</text>
<text transform="translate(223.4 377.0) rotate(-45)" font-size="12" font-weight="bold" text-anchor="end">T cell CD4+ memory activated</text>
<text transform="translate(263.6 377.0) rotate(-45)" font-size="12" font-weight="bold" text-anchor="end">T cell follicular helper</text>
<text transform="translate(303.8 377.0) rotate(-45)" font-size="12" font-weight="bold" text-anchor="end">NK cell activated</text>
<text transform="translate(344.0 377.0) rotate(-45)" font-size="12" font-weight="bold" text-anchor="end">Monocyte</text>
<text transform="translate(384.2 377.0) rotate(-45)" font-size="12" font-weight="bold" text-anchor="end">Macrophage M0</text>
<text transform="translate(424.4 377.0) rotate(-45)" font-size="12" font-weight="bold" text-anchor="end">Macrophage M1</text>
<text transform="translate(464.6 377.0) rotate(-45)" font-size="12" font-weight="bold" text-anchor="end">Macrophage M2</text>
<text transform="translate(504.9 377.0) rotate(-45)" font-size="12" font-weight="bold" text-anchor="end">Myeloid dendritic cell resting</text>
<text transform="translate(545.1 377.0) rotate(-45)" font-size="12" font-weight="bold" text-anchor="end">Mast cell activated</text>
<text transform="translate(585.3 377.0) rotate(-45)" font-size="12" font-weight="bold" text-anchor="end">Mast cell resting</text>
<text transform="translate(625.5 377.0) rotate(-45)" font-size="12" font-weight="bold" text-anchor="end">Neutrophil</text>
<text transform="translate(20.9 187.7) rotate(-90)" font-size="14" font-weight="bold" text-anchor="middle">CIBERSORT estiimate</text>
<circle cx="105" cy="17.7" r="1.8" fill="#a3bae1"/><circle cx="105" cy="34.7" r="1.8" fill="#41388b"/>
<text x="111.3" y="22.4" font-size="13">Subtype 1</text><text x="111.3" y="39.5" font-size="13">Subtype 2</text>
</svg></body></html>
